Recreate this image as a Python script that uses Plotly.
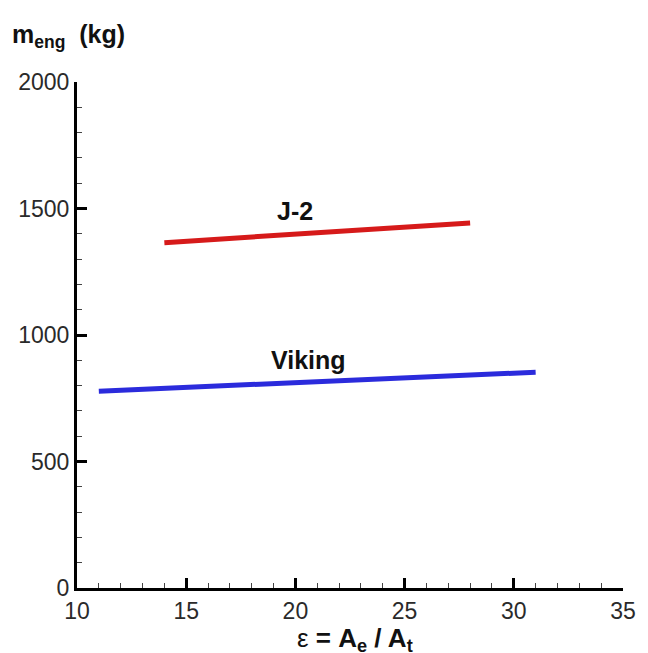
import plotly.graph_objects as go

# Data
j2_eps = [14, 28]
j2_mass = [1365, 1443]
viking_eps = [11, 31]
viking_mass = [778, 853]

labels = ["J-2", "Viking"]
label_x = [20.0, 20.6]
label_y = [1490, 900]

x_range = [10, 35]
y_range = [0, 2000]

FONT = "Liberation Sans, Arial"

fig = go.Figure()
fig.add_trace(go.Scatter(x=j2_eps, y=j2_mass, mode="lines",
                         line=dict(color="#d61a1a", width=5), showlegend=False))
fig.add_trace(go.Scatter(x=viking_eps, y=viking_mass, mode="lines",
                         line=dict(color="#2b2bdc", width=5), showlegend=False))

for t, xv, yv in zip(labels, label_x, label_y):
    fig.add_annotation(x=xv, y=yv, text="<b>%s</b>" % t, showarrow=False,
                       font=dict(family=FONT, size=25, color="#111"))

fig.add_annotation(xref="paper", yref="paper", x=-0.123, y=1.09, xanchor="left", yanchor="middle",
                   text="<b>m<sub>eng</sub>  (kg)</b>", showarrow=False,
                   font=dict(family=FONT, size=25, color="#111"))
fig.add_annotation(xref="paper", yref="paper", x=0.51, y=-0.101, xanchor="center", yanchor="middle",
                   text="ε <b>= A<sub>e</sub> / A<sub>t</sub></b>", showarrow=False,
                   font=dict(family=FONT, size=26, color="#111"))

fig.update_layout(
    width=648, height=653,
    margin=dict(l=77, r=17, t=82, b=65),
    paper_bgcolor="white", plot_bgcolor="white",
    font=dict(family=FONT, size=23, color="#2a2a2a"),
    xaxis=dict(range=x_range, tickvals=[10, 15, 20, 25, 30, 35], showgrid=False, zeroline=False,
               showline=True, linecolor="black", linewidth=3, ticks="inside", ticklen=10,
               tickwidth=2.5, tickcolor="black",
               minor=dict(dtick=1, ticks="inside", ticklen=5, tickwidth=1, tickcolor="#444", showgrid=False)),
    yaxis=dict(range=y_range, tickvals=[0, 500, 1000, 1500, 2000], showgrid=False, zeroline=False,
               showline=True, linecolor="black", linewidth=3, ticks="inside", ticklen=10,
               tickwidth=2.5, tickcolor="black",
               minor=dict(dtick=100, ticks="inside", ticklen=5, tickwidth=1, tickcolor="#444", showgrid=False)),
)

fig.write_html("out.html")
